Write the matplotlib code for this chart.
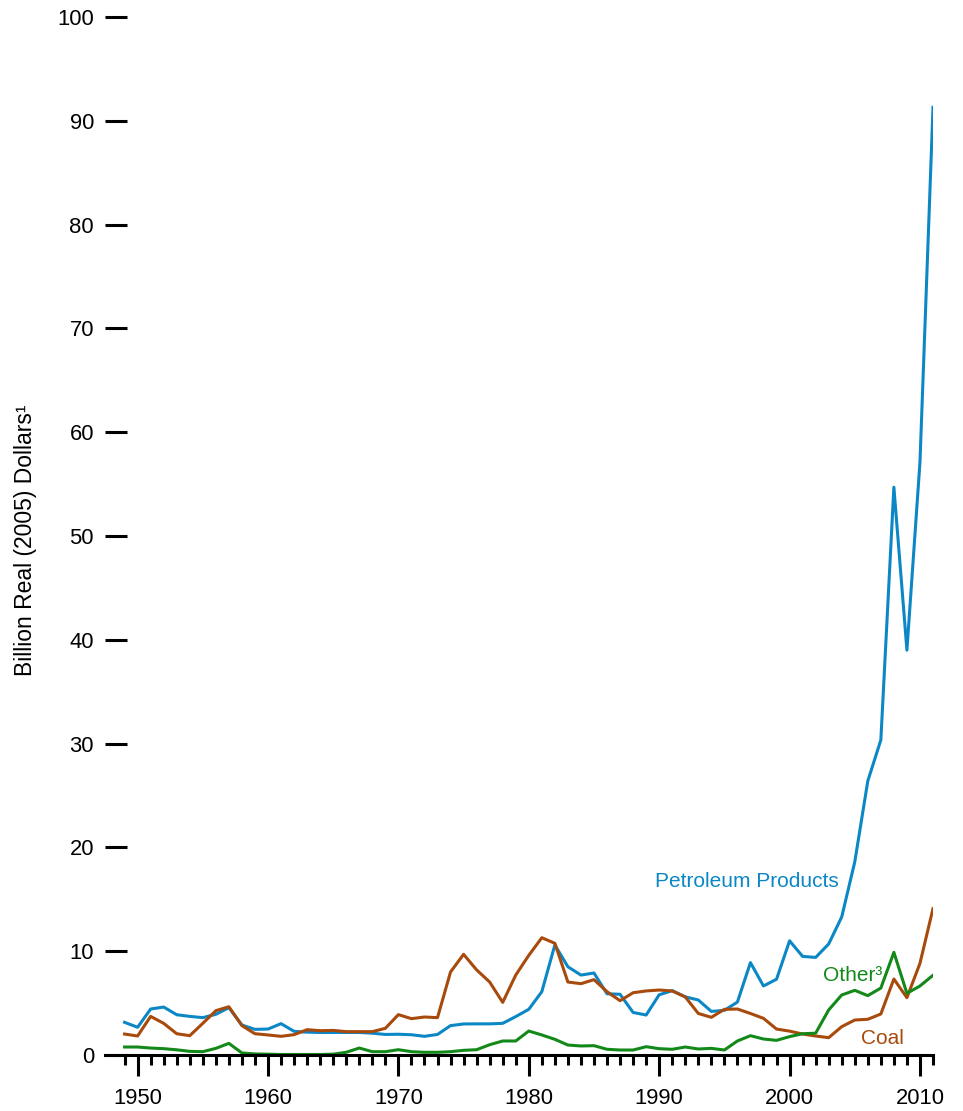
import matplotlib
matplotlib.use('Agg')
import matplotlib.pyplot as plt

plt.rcParams['font.family'] = ['Liberation Sans', 'DejaVu Sans']

years = list(range(1949, 2012))

petroleum = [3.15, 2.67, 4.43, 4.62, 3.88, 3.72, 3.6, 3.92, 4.56, 2.89,
             2.47, 2.5, 3.02, 2.28, 2.2, 2.17, 2.17, 2.17, 2.17, 2.1,
             1.98, 2.0, 1.95, 1.8, 1.98, 2.83, 2.99, 3.0, 3.0, 3.05,
             3.7, 4.4, 6.1, 10.6, 8.5, 7.7, 7.9, 5.9, 5.85, 4.1,
             3.85, 5.8, 6.2, 5.6, 5.3, 4.2, 4.3, 5.1, 8.9, 6.65,
             7.3, 11.0, 9.5, 9.4, 10.7, 13.3, 18.6, 26.4, 30.35, 54.7,
             39.0, 57.1, 91.3]

coal = [2.02, 1.83, 3.72, 3.05, 2.05, 1.86, 3.05, 4.27, 4.65, 2.83,
        2.05, 1.93, 1.8, 1.96, 2.44, 2.34, 2.37, 2.25, 2.25, 2.25,
        2.57, 3.89, 3.5, 3.66, 3.6, 8.0, 9.7, 8.2, 7.03, 5.07,
        7.7, 9.6, 11.3, 10.76, 7.03, 6.87, 7.26, 6.1, 5.23, 6.0,
        6.17, 6.26, 6.17, 5.6, 4.0, 3.63, 4.4, 4.43, 4.0, 3.53,
        2.5, 2.3, 2.02, 1.83, 1.67, 2.73, 3.37, 3.44, 3.95, 7.32,
        5.52, 8.83, 14.1]

other = [0.77, 0.77, 0.67, 0.61, 0.5, 0.35, 0.32, 0.64, 1.12, 0.2,
         0.1, 0.08, 0.05, 0.05, 0.05, 0.05, 0.08, 0.26, 0.67, 0.32,
         0.32, 0.51, 0.32, 0.26, 0.26, 0.32, 0.45, 0.51, 0.99, 1.35,
         1.35, 2.31, 1.93, 1.51, 0.96, 0.87, 0.9, 0.55, 0.48, 0.48,
         0.8, 0.61, 0.55, 0.77, 0.58, 0.64, 0.48, 1.35, 1.86, 1.54,
         1.41, 1.77, 2.05, 2.1, 4.34, 5.78, 6.23, 5.72, 6.45, 9.89,
         5.94, 6.65, 7.68]

BLUE = '#0b87c6'
BROWN = '#a84a0c'
GREEN = '#13891a'

fig = plt.figure(figsize=(9.63, 11.11), dpi=100)
ax = fig.add_axes([105 / 963, 1 - 1055 / 1111, 828 / 963, 1038 / 1111])

ax.plot(years, petroleum, color=BLUE, lw=2.2)
ax.plot(years, coal, color=BROWN, lw=2.2)
ax.plot(years, other, color=GREEN, lw=2.2)

ax.set_xlim(1947.5, 2011)
ax.set_ylim(0, 100)

for side in ('top', 'right', 'left'):
    ax.spines[side].set_visible(False)
ax.spines['bottom'].set_linewidth(2.2)

## decade labels, a tick on every year
ax.set_xticks(range(1950, 2011, 10))
ax.set_xticks(range(1949, 2012), minor=True)
ax.tick_params(axis='x', which='major', direction='out', length=15, width=2.2,
               pad=9, labelsize=15.8)
ax.tick_params(axis='x', which='minor', direction='out', length=7.5, width=2.2)

ax.set_yticks(range(0, 101, 10))
ax.tick_params(axis='y', which='major', direction='in', length=16, width=2.2,
               pad=8, labelsize=15.8)

fig.text(26 / 963, 1 - 540 / 1111, 'Billion Real (2005) Dollars\u00b9',
         fontsize=16.5, rotation=90, ha='center', va='center')

ax.text(1996.7, 16.7, 'Petroleum Products', color=BLUE, fontsize=15,
        ha='center', va='center')
ax.text(2004.8, 7.7, 'Other\u00b3', color=GREEN, fontsize=15,
        ha='center', va='center')
ax.text(2007.1, 1.6, 'Coal', color=BROWN, fontsize=15,
        ha='center', va='center')

plt.savefig('out.png', dpi=100)
